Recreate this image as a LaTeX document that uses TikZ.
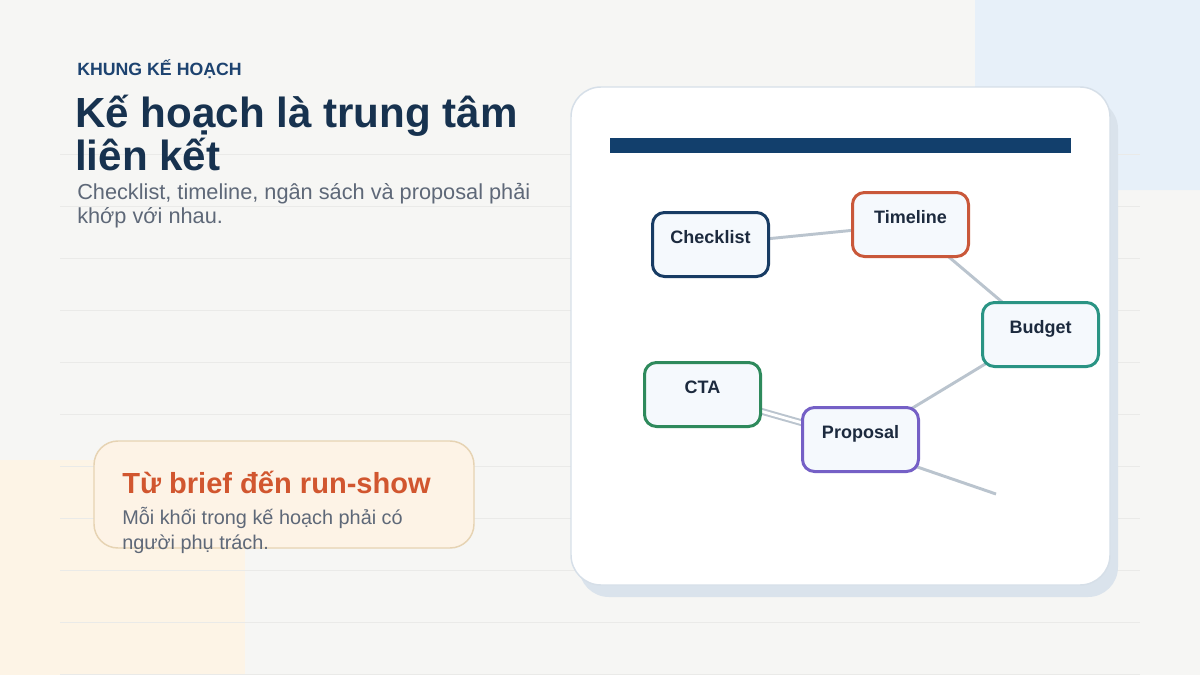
\documentclass[tikz,border=0pt]{standalone}
\usepackage{fontspec}
\setmainfont{Liberation Sans}
\definecolor{bgc}{HTML}{F6F6F4}
\definecolor{bluebg}{HTML}{E7F0F9}
\definecolor{peachbg}{HTML}{FDF4E6}
\definecolor{gridc}{HTML}{EAEAE8}
\definecolor{kickc}{HTML}{1D4370}
\definecolor{titlec}{HTML}{17324F}
\definecolor{subc}{HTML}{5E6878}
\definecolor{cardborder}{HTML}{D6DFE8}
\definecolor{cardshadow}{HTML}{DAE3EC}
\definecolor{barc}{HTML}{123F6C}
\definecolor{nodefill}{HTML}{F5F9FD}
\definecolor{nodetext}{HTML}{1C2A3E}
\definecolor{cChecklist}{HTML}{183C64}
\definecolor{cTimeline}{HTML}{C9583A}
\definecolor{cBudget}{HTML}{2A9484}
\definecolor{cCTA}{HTML}{2E8A5C}
\definecolor{cProposal}{HTML}{7560C6}
\definecolor{edgec}{HTML}{BAC4CE}
\definecolor{boxfill}{HTML}{FDF3E6}
\definecolor{boxborder}{HTML}{E6D3B3}
\definecolor{boxtitle}{HTML}{D1562F}
\pgfdeclarelayer{bg}
\pgfdeclarelayer{edges}
\pgfsetlayers{bg,edges,main}
\begin{document}
\begin{tikzpicture}[x=0.75pt,y=-0.75pt,
  txt/.style={anchor=base west, inner sep=0pt},
  mapnode/.style={draw=#1, fill=nodefill, line width=2.25pt, rounded corners=9pt,
    minimum width=87pt, inner xsep=0pt, inner ysep=0pt,
    text height=22.9pt, text depth=25.1pt, text=nodetext,
    font=\bfseries\fontsize{13.5pt}{16pt}\selectfont},
  link/.style={draw=edgec, line width=2.2pt},
  dlink/.style={draw=edgec, line width=1.5pt, double=white, double distance=2.1pt}
]
\useasboundingbox (0,0) rectangle (1200,675);
\begin{pgfonlayer}{bg}
  \fill[bgc] (0,0) rectangle (1200,675);
  \fill[bluebg, rounded corners=22.5pt] (975,-40) rectangle (1240,190);
  \fill[peachbg] (0,460) rectangle (245,675);
  \foreach \yy in {154,206,258,310,362,414,466,518,570,622,674}
    \draw[gridc, line width=0.75pt] (60,\yy) -- (1140,\yy);
  % card
  \fill[cardshadow, rounded corners=22.5pt] (579,99) rectangle (1118,597);
  \draw[cardborder, fill=white, line width=1.1pt, rounded corners=22.5pt] (571,87) rectangle (1110,585);
  \fill[barc] (610,138) rectangle (1071,153);
\end{pgfonlayer}

% left texts
\node[txt, font=\bfseries\fontsize{13.3pt}{15pt}\selectfont, text=kickc] (kicker) at (77,75) {KHUNG KẾ HOẠCH};
\node[txt, font=\bfseries\fontsize{31.6pt}{33pt}\selectfont, text=titlec] (title1) at (75,127.5) {Kế hoạch là trung tâm};
\node[txt, font=\bfseries\fontsize{31.6pt}{33pt}\selectfont, text=titlec] (title2) at (75,170.5) {liên kết};
\node[txt, font=\fontsize{16.3pt}{18pt}\selectfont, text=subc] (sub1) at (77,199.5) {Checklist, timeline, ngân sách và proposal phải};
\node[txt, font=\fontsize{16.3pt}{18pt}\selectfont, text=subc] (sub2) at (77,223) {khớp với nhau.};

% bottom box
\draw[boxborder, fill=boxfill, line width=1.1pt, rounded corners=18pt] (94,441) rectangle (474,548);
\node[txt, font=\bfseries\fontsize{21.8pt}{24pt}\selectfont, text=boxtitle] (boxt) at (122,493) {Từ brief đến run-show};
\node[txt, font=\fontsize{14.9pt}{17pt}\selectfont, text=subc] (boxb1) at (122,524) {Mỗi khối trong kế hoạch phải có};
\node[txt, font=\fontsize{14.9pt}{17pt}\selectfont, text=subc] (boxb2) at (122,549) {người phụ trách.};

% map nodes
\node[mapnode=cChecklist] (checklist) at (710.5,244.5) {Checklist};
\node[mapnode=cTimeline] (timeline) at (910.5,224.5) {Timeline};
\node[mapnode=cBudget] (budget) at (1040.5,334.5) {Budget};
\node[mapnode=cCTA] (cta) at (702.5,394.5) {CTA};
\node[mapnode=cProposal] (proposal) at (860.5,439.5) {Proposal};
\coordinate (pend) at (996,494);

\begin{pgfonlayer}{edges}
  \draw[link] (checklist.center) -- (timeline.center);
  \draw[link] (timeline.center) -- (budget.center);
  \draw[link] ([yshift=3pt]budget.center) -- (proposal.center);
  \draw[dlink] (cta.center) -- (proposal.center);
  \draw[link] ([yshift=-6pt]proposal.center) -- (pend);
\end{pgfonlayer}
\end{tikzpicture}
\end{document}
